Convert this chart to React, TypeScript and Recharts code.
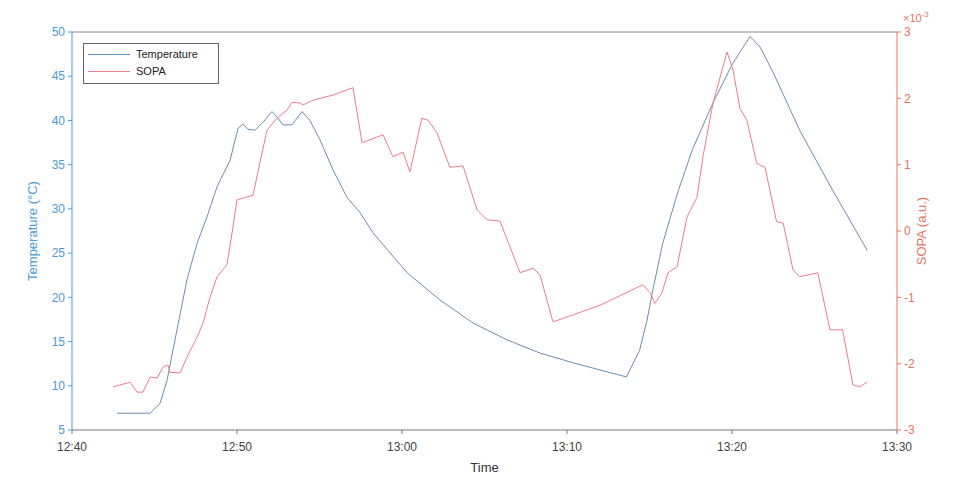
import {
  LineChart,
  Line,
  XAxis,
  YAxis,
  ReferenceLine,
  Label,
} from "recharts";

// minutes after 12:40
const timeTicks = [0, 10, 20, 30, 40, 50];
const timeLabels = ["12:40", "12:50", "13:00", "13:10", "13:20", "13:30"];
const tempTicks = [5, 10, 15, 20, 25, 30, 35, 40, 45, 50];
const sopaTicks = [-3, -2, -1, 0, 1, 2, 3];

const tempTime = [
  2.73, 4.73, 5.33, 5.76, 6.36, 6.97, 7.58, 8.18, 8.79, 9.58, 10.06, 10.36, 10.67,
  11.09, 11.58, 12.12, 12.42, 12.79, 13.33, 13.94, 14.42, 15.03, 15.82, 16.67,
  17.45, 18.24, 20.3, 22.3, 24.3, 26.36, 28.36, 30.36, 33.6, 34.4, 34.85, 35.2,
  35.8, 36.7, 37.6, 38.85, 40.06, 41.1, 41.7, 42.5, 44.1, 46.1, 48.2,
];
const tempValues = [
  6.9, 6.9, 8.0, 10.6, 16.3, 22.0, 26.1, 29.1, 32.5, 35.5, 39.1, 39.6, 39.0,
  38.9, 39.8, 41.0, 40.4, 39.5, 39.5, 41.0, 40.0, 37.8, 34.4, 31.3,
  29.6, 27.3, 22.8, 19.7, 17.1, 15.2, 13.7, 12.6, 11.0, 14.0, 17.4, 20.8,
  26.1, 31.8, 36.7, 42.0, 46.5, 49.5, 48.3, 45.4, 38.9, 32.1, 25.3,
];

const sopaTime = [
  2.48, 3.52, 3.94, 4.3, 4.73, 5.15, 5.52, 5.82, 5.94, 6.55, 6.97, 7.58, 7.94,
  8.36, 8.79, 9.39, 9.7, 10.0, 10.97, 11.39, 11.82, 12.42, 13.03, 13.33, 13.82,
  14.0, 14.6, 15.82, 16.67, 17.03, 17.58, 18.85, 19.45, 20.06, 20.48, 21.2,
  21.58, 22.12, 22.9, 23.7, 24.55, 25.15, 25.94, 27.15, 27.94, 28.36, 29.15,
  32.0, 34.6, 35.03, 35.33, 35.76, 36.12, 36.67, 37.27, 37.88, 38.24, 38.85,
  39.7, 40.06, 40.48, 40.9, 41.5, 42.0, 42.7, 43.1, 43.7, 44.1, 45.2, 45.94,
  46.7, 47.33, 47.76, 48.18,
];
// x 10^-3
const sopaValues = [
  -2.35, -2.28, -2.43, -2.43, -2.2, -2.22, -2.05, -2.02, -2.13, -2.14, -1.9,
  -1.6, -1.39, -1.0, -0.69, -0.51, -0.03, 0.47, 0.54, 1.03, 1.52, 1.7, 1.82,
  1.94, 1.93, 1.9, 1.97, 2.05, 2.13, 2.16, 1.33, 1.45, 1.12, 1.19, 0.89, 1.7,
  1.67, 1.48, 0.96, 0.98, 0.32, 0.17, 0.15, -0.63, -0.56, -0.66, -1.37,
  -1.12, -0.81, -0.93, -1.09, -0.93, -0.63, -0.54, 0.21, 0.51, 1.12, 1.93,
  2.7, 2.43, 1.85, 1.67, 1.02, 0.96, 0.14, 0.12, -0.59, -0.69, -0.63, -1.49,
  -1.49, -2.32, -2.35, -2.28,
];

const tempData = tempTime.map((t, i) => ({ t, temp: tempValues[i] }));
const sopaData = sopaTime.map((t, i) => ({ t, sopa: sopaValues[i] }));

const FONT = "'Liberation Sans', Arial, sans-serif";
const TEMP_COLOR = "#6b8db5";
const SOPA_COLOR = "#ec7d8e";
const LEFT_AXIS = "#4a9bd6";
const RIGHT_AXIS = "#e8735f";

function LegendBox() {
  return (
    <div
      style={{
        position: "absolute",
        left: 83,
        top: 43,
        border: "1px solid #666",
        background: "#fff",
        padding: "2px 8px 3px 4px",
        fontFamily: FONT,
        fontSize: 11,
        color: "#222",
        lineHeight: "17px",
        width: 122,
      }}
    >
      <div style={{ display: "flex", alignItems: "center" }}>
        <span style={{ width: 42, height: 1, background: "#5a8fc8", marginRight: 6 }} />
        Temperature
      </div>
      <div style={{ display: "flex", alignItems: "center" }}>
        <span style={{ width: 42, height: 1, background: SOPA_COLOR, marginRight: 6 }} />
        SOPA
      </div>
    </div>
  );
}

export default function App() {
  return (
    <div style={{ position: "absolute", left: 0, top: 0, width: 953, height: 477, background: "#fff" }}>
      <LineChart
        width={953}
        height={477}
        margin={{ top: 32, right: 0, left: 0, bottom: 0 }}
        style={{ fontFamily: FONT }}
      >
        <XAxis
          type="number"
          dataKey="t"
          domain={[0, 50]}
          ticks={timeTicks}
          tickFormatter={(v: number) => timeLabels[timeTicks.indexOf(v)]}
          height={47}
          stroke="#777"
          tick={{ fill: "#444", fontSize: 12 }}
          tickSize={4}
          tickMargin={8}
          allowDuplicatedCategory={false}
        >
          <Label value="Time" position="insideBottom" offset={5} style={{ fill: "#333", fontSize: 13 }} />
        </XAxis>
        <YAxis
          yAxisId="left"
          domain={[5, 50]}
          ticks={tempTicks}
          width={72}
          stroke={LEFT_AXIS}
          tick={{ fill: LEFT_AXIS, fontSize: 12 }}
          tickSize={4}
          tickMargin={3}
        >
          <Label
            value="Temperature (°C)"
            angle={-90}
            position="insideLeft"
            offset={32}
            style={{ fill: LEFT_AXIS, fontSize: 13, textAnchor: "middle" }}
          />
        </YAxis>
        <YAxis
          yAxisId="right"
          orientation="right"
          domain={[-3, 3]}
          ticks={sopaTicks}
          width={56}
          stroke={RIGHT_AXIS}
          tick={{ fill: RIGHT_AXIS, fontSize: 12 }}
          tickSize={4}
          tickMargin={3}
        >
          <Label
            value="SOPA (a.u.)"
            angle={-90}
            position="insideRight"
            offset={32}
            style={{ fill: RIGHT_AXIS, fontSize: 13, textAnchor: "middle" }}
          />
          <Label
            value="×10⁻³"
            position="top"
            offset={0}
            content={() => (
              <text x={903} y={22} fill={RIGHT_AXIS} fontSize={11}>
                ×10<tspan dy={-5} fontSize={8}>-3</tspan>
              </text>
            )}
          />
        </YAxis>
        <ReferenceLine yAxisId="left" y={50} stroke="#888" strokeWidth={1} />
        <Line
          yAxisId="left"
          data={tempData}
          dataKey="temp"
          name="Temperature"
          type="linear"
          stroke={TEMP_COLOR}
          strokeWidth={1}
          dot={false}
          isAnimationActive={false}
        />
        <Line
          yAxisId="right"
          data={sopaData}
          dataKey="sopa"
          name="SOPA"
          type="linear"
          stroke={SOPA_COLOR}
          strokeWidth={1}
          dot={false}
          isAnimationActive={false}
        />
      </LineChart>
      <LegendBox />
    </div>
  );
}
